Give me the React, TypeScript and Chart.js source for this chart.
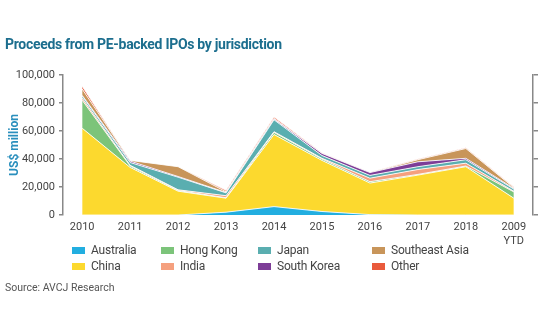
import React, { useEffect, useRef } from "react";
import { Chart, registerables } from "chart.js";

Chart.register(...registerables);

const xLabels: (string | string[])[] = ["2010", "2011", "2012", "2013", "2014", "2015", "2016", "2017", "2018", ["2009", "YTD"]];

const australia = [0, 0, 0, 2000, 6000, 2500, 300, 0, 0, 0];
const china = [62000, 34000, 17000, 10000, 51500, 36500, 22500, 28500, 34500, 12000];
const hongKong = [20000, 1000, 500, 300, 1500, 1000, 1000, 500, 500, 4500];
const india = [1500, 500, 500, 1500, 500, 500, 2500, 3500, 2000, 500];
const japan = [1500, 2000, 9000, 2000, 8500, 2000, 2000, 2000, 2500, 1500];
const southKorea = [500, 1000, 500, 300, 500, 1500, 2000, 3500, 1000, 500];
const southeastAsia = [4500, 500, 7000, 500, 500, 0, 0, 1500, 7000, 500];
const other = [2000, 0, 0, 1000, 1000, 500, 300, 500, 500, 500];

const seriesNames = ["Australia", "China", "Hong Kong", "India", "Japan", "South Korea", "Southeast Asia", "Other"];
const seriesValues = [australia, china, hongKong, india, japan, southKorea, southeastAsia, other];
const seriesColors = ["#22aee0", "#fcd92e", "#7cc47a", "#f5a07e", "#5aaeb0", "#7d3d97", "#c8955a", "#e95a3c"];

const yTicks = [0, 20000, 40000, 60000, 80000, 100000];

const legendOrder = [0, 2, 4, 6, 1, 3, 5, 7];
const legendCols = [72, 161, 258, 372];

export default function App() {
  const ref = useRef<HTMLCanvasElement | null>(null);

  useEffect(() => {
    document.body.style.margin = "0";
    const ctx = ref.current!.getContext("2d")!;
    const chart = new Chart(ctx, {
      type: "line",
      data: {
        datasets: seriesNames.map((name, i) => ({
          label: name,
          data: seriesValues[i].map((v, j) => ({ x: j, y: v })),
          backgroundColor: seriesColors[i],
          borderColor: "rgba(255,255,255,0.85)",
          borderWidth: 1,
          pointRadius: 0,
          tension: 0,
          fill: i === 0 ? "origin" : "-1",
        })),
      },
      options: {
        animation: false,
        responsive: false,
        maintainAspectRatio: false,
        layout: { padding: { top: 75, right: 0, bottom: 0, left: 0 } },
        plugins: { legend: { display: false }, tooltip: { enabled: false } },
        scales: {
          x: {
            type: "linear",
            min: -0.4,
            max: 9.4,
            grid: { display: false, drawTicks: false },
            border: { display: false },
            afterBuildTicks: (scale: any) => {
              scale.ticks = xLabels.map((_, i) => ({ value: i }));
            },
            afterFit: (scale: any) => {
              scale.height = 119;
            },
            ticks: {
              padding: 6,
              autoSkip: false,
              maxRotation: 0,
              color: "#444",
              font: { family: "Roboto", size: 11 },
              callback: (v: any) => xLabels[v as number] ?? "",
            },
          },
          y: {
            stacked: true,
            min: 0,
            max: 100000,
            position: "left",
            afterBuildTicks: (scale: any) => {
              scale.ticks = yTicks.map((v) => ({ value: v }));
            },
            afterFit: (scale: any) => {
              scale.width = 63;
            },
            grid: { drawOnChartArea: false, drawTicks: true, tickLength: 4, color: "#888", lineWidth: 1.5 },
            border: { display: true, color: "#888", width: 1.5 },
            title: {
              display: true,
              text: "US$ million",
              color: "#2a8fbd",
              font: { family: "Roboto", size: 12, weight: "bold" },
              padding: { top: 8, bottom: 0 },
            },
            ticks: {
              padding: 4,
              color: "#444",
              font: { family: "Roboto", size: 11 },
              callback: (v: any) => Number(v).toLocaleString("en-US"),
            },
          },
          y2: {
            min: 0,
            max: 100000,
            position: "right",
            afterBuildTicks: (scale: any) => {
              scale.ticks = yTicks.map((v) => ({ value: v }));
            },
            afterFit: (scale: any) => {
              scale.width = 7;
            },
            grid: { drawOnChartArea: false, drawTicks: true, tickLength: 5, color: "#888", lineWidth: 1.5 },
            border: { display: true, color: "#888", width: 1.5 },
            ticks: { display: false },
          },
        },
      } as any,
    });
    return () => chart.destroy();
  }, []);

  return (
    <div style={{ position: "fixed", left: 0, top: 0, width: 540, height: 334, background: "#fff", fontFamily: "Roboto" }}>
      <canvas ref={ref} width={540} height={334} style={{ position: "absolute", left: 0, top: 0 }} />
      <div
        style={{
          position: "absolute",
          left: 5,
          top: 36,
          fontSize: 14,
          fontWeight: "bold",
          color: "#1c6e8e",
          letterSpacing: -0.3,
          whiteSpace: "nowrap",
        }}
      >
        Proceeds from PE-backed IPOs by jurisdiction
      </div>
      {legendOrder.map((si, k) => {
        const col = k % 4;
        const row = Math.floor(k / 4);
        return (
          <div
            key={si}
            style={{
              position: "absolute",
              left: legendCols[col],
              top: 243 + row * 16,
              height: 14,
              display: "flex",
              alignItems: "center",
              fontSize: 12,
              letterSpacing: -0.2,
              color: "#444",
              whiteSpace: "nowrap",
            }}
          >
            <span style={{ display: "inline-block", width: 13, height: 7, background: seriesColors[si], marginRight: 6 }} />
            {seriesNames[si]}
          </div>
        );
      })}
      <div style={{ position: "absolute", left: 5, top: 281, fontSize: 10.5, color: "#555", whiteSpace: "nowrap" }}>
        Source: AVCJ Research
      </div>
    </div>
  );
}
